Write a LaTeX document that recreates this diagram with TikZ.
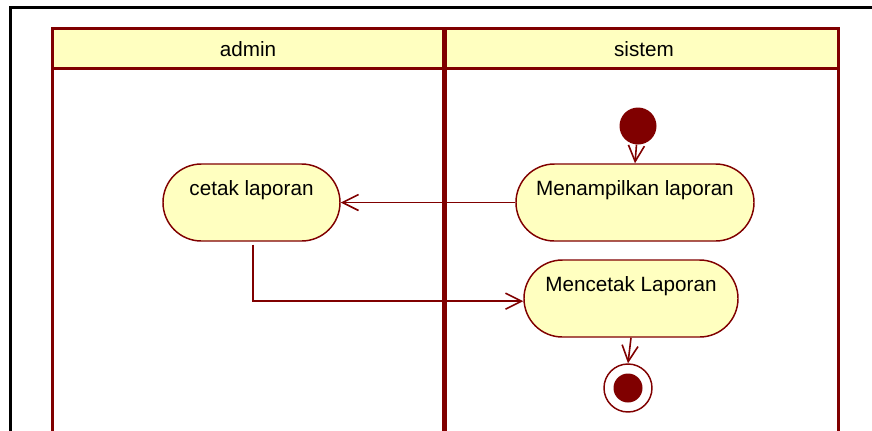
\documentclass[tikz,border=0pt]{standalone}
\usepackage{fontspec}
\setmainfont{Liberation Sans}
\usetikzlibrary{arrows.meta}
\definecolor{dred}{HTML}{800000}
\definecolor{lyel}{HTML}{FFFFC0}
\begin{document}
\begin{tikzpicture}[x=0.75pt,y=-0.75pt,
  act/.style={rectangle, rounded corners=28.8pt, draw=dred, fill=lyel, line width=1.1pt,
    minimum height=57.75pt, text height=23.25pt, text depth=34.5pt, inner ysep=0pt,
    font=\fontsize{15.5}{18}\selectfont},
  flow/.style={draw=dred, line width=1.2pt, -{Straight Barb[length=12pt,width=12pt,line width=1.2pt]}},
  lane/.style={draw=dred, line width=2.25pt},
  hdr/.style={font=\fontsize{15.5}{18}\selectfont}]
\useasboundingbox (0,0) rectangle (872,430);
% outer frame
\draw[black, line width=2.25pt] (10,432) -- (10,7) -- (874,7);
% swimlanes
\fill[lyel] (52,28) rectangle (838,68);
\draw[lane] (52,432) -- (52,28) -- (838,28) -- (838,432);
\draw[lane] (52,68) -- (838,68);
\draw[draw=dred, line width=3.75pt] (444.5,28) -- (444.5,432);
\node[hdr] (hadmin) at (248,49) {admin};
\node[hdr] (hsistem) at (644,49) {sistem};
% nodes
\node[act, minimum width=132.75pt] (cetak) at (251.5,202.5) {cetak laporan};
\node[act, minimum width=178.5pt] (tampil) at (635,202.5) {Menampilkan laporan};
\node[act, minimum width=160.5pt] (mencetak) at (631,298.5) {Mencetak Laporan};
\node[circle, fill=dred, inner sep=0pt, minimum size=27.75pt] (start) at (638,126) {};
\node[circle, draw=dred, fill=white, line width=1.1pt, inner sep=0pt, minimum size=36pt] (end) at (628,388) {};
\node[circle, fill=dred, inner sep=0pt, minimum size=21.75pt] (endin) at (628,388) {};
% connectors
\draw[flow] (start) -- (tampil.north);
\draw[flow] (tampil.west) -- (cetak.east);
\draw[flow, shorten <=2.25pt] ([xshift=1.1pt]cetak.south) |- ([yshift=-2pt]mencetak.west);
\draw[flow] (mencetak.south) -- (end.north);
\end{tikzpicture}
\end{document}
